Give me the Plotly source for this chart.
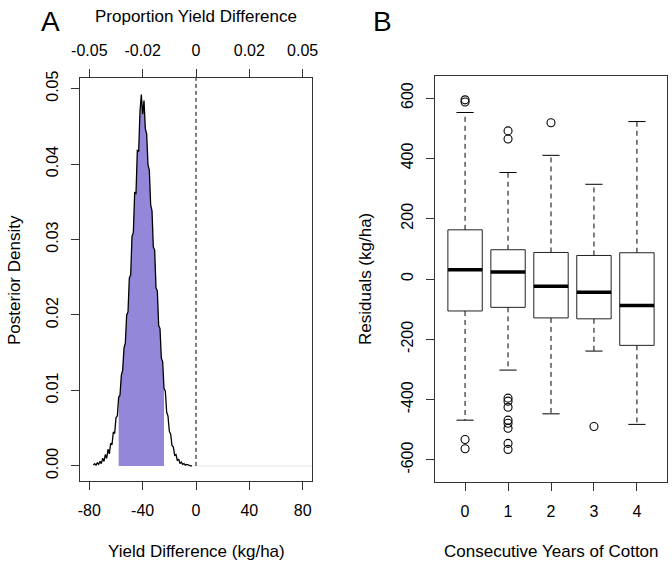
import plotly.graph_objects as go

# ---------------- Panel A data: posterior density of yield difference ----------------
dens_x = list(range(-77, -2))
dens_y = [
    0.0001, 0.0003, 0.0001, 0.0004, 0.0002, 0.0006, 0.0003, 0.0010, 0.0006, 0.0015,
    0.0010, 0.0022, 0.0016, 0.0030, 0.0028, 0.0045, 0.0043, 0.0064, 0.0066, 0.0091,
    0.0094, 0.0120, 0.0127, 0.0156, 0.0163, 0.0200, 0.0204, 0.0249, 0.0253, 0.0304,
    0.0309, 0.0362, 0.0361, 0.0418, 0.0417, 0.0470, 0.0492,
    0.0466, 0.0484, 0.0447, 0.0440, 0.0399, 0.0392, 0.0346, 0.0338, 0.0290, 0.0286,
    0.0236, 0.0232, 0.0186, 0.0182, 0.0143, 0.0138, 0.0103, 0.0099, 0.0071, 0.0066,
    0.0046, 0.0042, 0.0027, 0.0025, 0.0014, 0.0015, 0.0007, 0.0009, 0.0003, 0.0005,
    0.0002, 0.0003, 0.0001, 0.0002, 0.0001, 0.0001, 0.0000, 0.0000,
]
ci_low, ci_high = -58, -24

a_xticks = [-80, -40, 0, 40, 80]
a_xtick_text = ["-80", "-40", "0", "40", "80"]
a_top_text = ["-0.05", "-0.02", "0", "0.02", "0.05"]
a_yticks = [0.00, 0.01, 0.02, 0.03, 0.04, 0.05]
a_ytick_text = ["0.00", "0.01", "0.02", "0.03", "0.04", "0.05"]

# ---------------- Panel B data: residual box plots ----------------
years = [0, 1, 2, 3, 4]
lower_whisker = [-468, -302, -447, -239, -482]
q1 = [-106, -94, -129, -132, -220]
median = [31, 23, -24, -44, -88]
q3 = [163, 97, 88, 78, 87]
upper_whisker = [552, 353, 410, 314, 522]
outliers = {
    0: [594, 587, -532, -563],
    1: [491, 464, -395, -405, -425, -468, -478, -495, -545, -565],
    2: [518],
    3: [-489],
    4: [],
}
b_yticks = [-600, -400, -200, 0, 200, 400, 600]

W, H = 672, 565
FONT = "Liberation Sans, Arial, sans-serif"
FRAME = "#333333"
TICK_SIZE = 16
TITLE_SIZE = 17


def px(x):
    return x / W


def py(y):
    return 1 - y / H


fig = go.Figure()

# Shaded credible interval
sx = [x for x in dens_x if ci_low <= x <= ci_high]
sy = [y for x, y in zip(dens_x, dens_y) if ci_low <= x <= ci_high]
fig.add_trace(go.Scatter(x=sx, y=sy, fill="tozeroy", fillcolor="#9387D9",
                         line=dict(width=0), mode="lines", xaxis="x", yaxis="y",
                         hoverinfo="skip"))
# faint baseline
fig.add_trace(go.Scatter(x=[dens_x[-1], 87], y=[0, 0], mode="lines",
                         line=dict(color="#e6e6e6", width=1), xaxis="x", yaxis="y"))
# density curve
fig.add_trace(go.Scatter(x=dens_x, y=dens_y, mode="lines",
                         line=dict(color="black", width=1.3), xaxis="x", yaxis="y"))
# zero reference line
fig.add_trace(go.Scatter(x=[0, 0], y=[0, 0.0514], mode="lines",
                         line=dict(color="black", width=1, dash="4px,3px"),
                         xaxis="x", yaxis="y"))
# dummy trace for top axis
fig.add_trace(go.Scatter(x=[0], y=[0], mode="markers", marker=dict(opacity=0),
                         xaxis="x3", yaxis="y", hoverinfo="skip"))

# ---------------- Box plots built from arrays ----------------
hw, cw = 0.4, 0.2
rx, ry, mx, my, wx, wy, cx, cy, ox, oy = [], [], [], [], [], [], [], [], [], []
for i, yr in enumerate(years):
    rx += [yr - hw, yr + hw, yr + hw, yr - hw, yr - hw, None]
    ry += [q1[i], q1[i], q3[i], q3[i], q1[i], None]
    mx += [yr - hw, yr + hw, None]
    my += [median[i], median[i], None]
    wx += [yr, yr, None, yr, yr, None]
    wy += [q3[i], upper_whisker[i], None, q1[i], lower_whisker[i], None]
    cx += [yr - cw, yr + cw, None, yr - cw, yr + cw, None]
    cy += [upper_whisker[i], upper_whisker[i], None, lower_whisker[i], lower_whisker[i], None]
    for v in outliers[yr]:
        ox.append(yr)
        oy.append(v)

fig.add_trace(go.Scatter(x=wx, y=wy, mode="lines", line=dict(color="black", width=1, dash="5px,4px"),
                         xaxis="x2", yaxis="y2"))
fig.add_trace(go.Scatter(x=cx, y=cy, mode="lines", line=dict(color="black", width=1),
                         xaxis="x2", yaxis="y2"))
fig.add_trace(go.Scatter(x=rx, y=ry, mode="lines", line=dict(color="#222222", width=1),
                         xaxis="x2", yaxis="y2"))
fig.add_trace(go.Scatter(x=mx, y=my, mode="lines", line=dict(color="black", width=3.5),
                         xaxis="x2", yaxis="y2"))
fig.add_trace(go.Scatter(x=ox, y=oy, mode="markers",
                         marker=dict(symbol="circle-open", size=8, color="black",
                                     line=dict(width=1.1, color="black")),
                         xaxis="x2", yaxis="y2"))

axis_common = dict(showgrid=False, zeroline=False, showline=True, linecolor=FRAME,
                   linewidth=1, mirror=True, ticks="outside", ticklen=8, tickcolor=FRAME,
                   automargin=False,
                   tickfont=dict(family=FONT, size=TICK_SIZE, color="black"))

fig.update_layout(
    width=W, height=H,
    margin=dict(l=0, r=0, t=0, b=0, pad=0),
    paper_bgcolor="white", plot_bgcolor="white",
    showlegend=False,
    font=dict(family=FONT, size=TICK_SIZE, color="black"),
    xaxis=dict(domain=[px(80), px(312)], range=[-87, 87], tickmode="array",
               tickvals=a_xticks, ticktext=a_xtick_text, anchor="y",
               ticklabelstandoff=7, **axis_common),
    xaxis3=dict(domain=[px(80), px(312)], range=[-87, 87], tickmode="array",
                tickvals=a_xticks, ticktext=a_top_text, overlaying="x", side="top",
                anchor="y", ticklabelstandoff=7,
                **{k: v for k, v in axis_common.items() if k not in ("showline", "mirror")},
                showline=False),
    yaxis=dict(domain=[py(481), py(78)], range=[-0.002, 0.0514], tickmode="array",
               tickvals=a_yticks, ticktext=a_ytick_text, tickangle=-90, anchor="x",
               ticklabelstandoff=7, **axis_common),
    xaxis2=dict(domain=[px(435), px(667)], range=[-0.7, 4.7], tickmode="array",
                tickvals=years, ticktext=[str(y) for y in years], anchor="y2",
                ticklabelstandoff=7, **axis_common),
    yaxis2=dict(domain=[py(482), py(76)], range=[-673, 673], tickmode="array",
                tickvals=b_yticks, ticktext=[str(v) for v in b_yticks], tickangle=-90,
                anchor="x2", ticklabelstandoff=7, **axis_common),
)

ann = [
    dict(text="A", x=px(50), y=py(21), size=28),
    dict(text="B", x=px(382), y=py(21), size=28),
    dict(text="Proportion Yield Difference", x=px(196), y=py(17), size=TITLE_SIZE),
    dict(text="Yield Difference (kg/ha)", x=px(196), y=py(551), size=TITLE_SIZE),
    dict(text="Consecutive Years of Cotton", x=px(551), y=py(551), size=TITLE_SIZE),
    dict(text="Posterior Density", x=px(14), y=py(280), size=TITLE_SIZE, angle=-90),
    dict(text="Residuals (kg/ha)", x=px(366), y=py(279), size=TITLE_SIZE, angle=-90),
]
for a in ann:
    fig.add_annotation(text=a["text"], x=a["x"], y=a["y"], xref="paper", yref="paper",
                       xanchor="center", yanchor="middle", showarrow=False,
                       textangle=a.get("angle", 0),
                       font=dict(family=FONT, size=a["size"], color="black"))

fig.write_html("out.html", config={"displayModeBar": False},
               post_script="document.body.style.margin='0';document.body.style.overflow='hidden';")
